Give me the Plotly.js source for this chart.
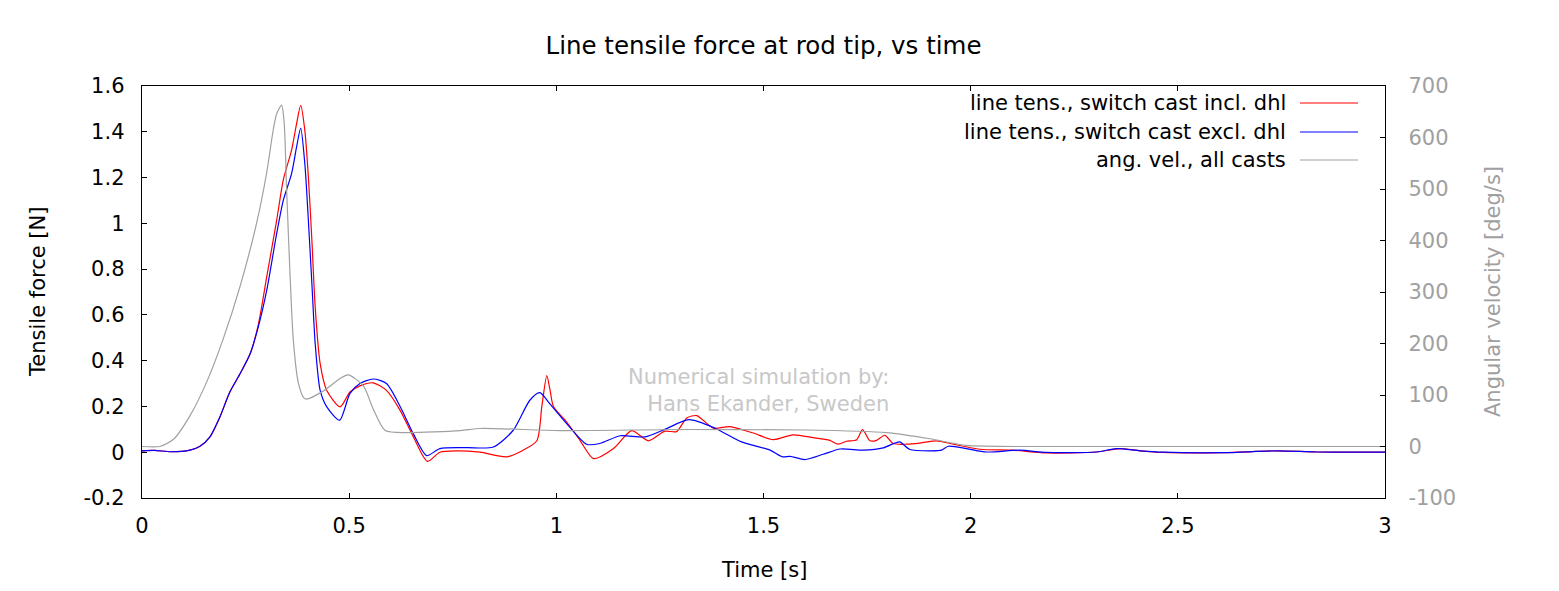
<!DOCTYPE html>
<html>
<head>
<meta charset="utf-8">
<script src="https://cdn.plot.ly/plotly-3.0.1.min.js"></script>
<style>html,body{margin:0;padding:0;background:#fff;}#chart{width:1559px;height:591px;}</style>
</head>
<body>
<div id="chart"></div>
<script>
// ---- data ----
var tIncl = [0,0.03,0.07,0.116,0.14,0.164,0.188,0.212,0.237,0.261,0.281,0.301,0.325,0.341,0.361,0.373,0.383,0.393,0.401,0.41,0.418,0.43,0.446,0.478,0.502,0.526,0.558,0.59,0.623,0.655,0.689,0.719,0.76,0.816,0.88,0.92,0.953,0.965,0.977,0.985,0.993,1.025,1.057,1.09,1.138,1.182,1.222,1.262,1.29,1.315,1.339,1.379,1.419,1.475,1.524,1.571,1.62,1.66,1.68,1.70,1.725,1.739,1.757,1.773,1.793,1.813,1.845,1.878,1.918,1.958,2.022,2.10,2.183,2.304,2.36,2.409,2.465,2.61,2.739,2.835,3.0];
var fIncl = [0.006,0.008,0.002,0.009,0.026,0.067,0.154,0.263,0.344,0.43,0.56,0.766,1.013,1.19,1.32,1.435,1.515,1.406,1.217,0.926,0.634,0.387,0.27,0.198,0.263,0.29,0.303,0.27,0.183,0.067,-0.04,0.0,0.006,0.0,-0.02,0.009,0.05,0.2,0.335,0.27,0.2,0.132,0.052,-0.028,0.016,0.094,0.05,0.092,0.09,0.15,0.16,0.105,0.112,0.084,0.055,0.076,0.064,0.052,0.035,0.048,0.055,0.099,0.05,0.052,0.074,0.038,0.035,0.04,0.05,0.035,0.013,0.009,-0.003,0.001,0.016,0.006,-0.001,-0.002,0.006,0.001,0.0];

var tExcl = [0,0.03,0.07,0.116,0.14,0.164,0.188,0.212,0.237,0.261,0.281,0.301,0.325,0.341,0.361,0.373,0.383,0.393,0.401,0.41,0.418,0.43,0.446,0.477,0.502,0.526,0.558,0.59,0.623,0.655,0.687,0.719,0.784,0.848,0.896,0.936,0.96,0.985,1.025,1.073,1.105,1.154,1.214,1.262,1.32,1.383,1.447,1.516,1.546,1.564,1.60,1.644,1.685,1.741,1.789,1.817,1.829,1.853,1.902,1.93,1.946,1.99,2.038,2.119,2.183,2.304,2.352,2.409,2.465,2.61,2.739,2.835,3.0];
var fExcl = [0.006,0.008,0.002,0.009,0.026,0.067,0.154,0.263,0.344,0.43,0.55,0.707,0.955,1.10,1.217,1.333,1.416,1.26,1.03,0.737,0.475,0.27,0.198,0.14,0.257,0.30,0.32,0.30,0.2,0.08,-0.015,0.016,0.02,0.023,0.096,0.227,0.26,0.21,0.125,0.035,0.038,0.072,0.067,0.10,0.142,0.105,0.045,0.009,-0.02,-0.018,-0.032,-0.009,0.014,0.009,0.019,0.04,0.045,0.012,0.006,0.009,0.026,0.016,0.001,0.009,-0.001,0.001,0.016,0.006,0.0,-0.002,0.006,0.001,0.0];

var tAng = [0,0.043,0.076,0.116,0.156,0.196,0.237,0.277,0.301,0.317,0.325,0.337,0.343,0.349,0.357,0.365,0.377,0.39,0.397,0.438,0.478,0.498,0.534,0.558,0.587,0.639,0.768,0.816,1.009,1.3,1.6,1.797,1.902,1.99,2.2,3.0];
var wAng = [0,0,14,60,125,209,312,435,532,616,646,663,630,500,339,209,125,95,92,108,132,139,118,73,31,27,31,35,31,33,32,27,15,2,0,0];

var xTickVals = [0,0.5,1,1.5,2,2.5,3];
var xTickText = ["0","0.5","1","1.5","2","2.5","3"];
var yTickVals = [-0.2,0,0.2,0.4,0.6,0.8,1,1.2,1.4,1.6];
var yTickText = ["-0.2","0","0.2","0.4","0.6","0.8","1","1.2","1.4","1.6"];
var y2TickVals = [-100,0,100,200,300,400,500,600,700];
var y2TickText = ["-100","0","100","200","300","400","500","600","700"];

var seriesNames = ["line tens., switch cast incl. dhl","line tens., switch cast excl. dhl","ang. vel., all casts"];
var seriesColors = ["#ff0000","#0000ff","#a0a0a0"];

// ---- chart ----
var FONT = "DejaVu Sans, Verdana, sans-serif";
var GREY = "#a0a0a0";
var SMOOTH = 0.7;

var traces = [
  {x:tIncl, y:fIncl, type:"scatter", mode:"lines", name:seriesNames[0],
   line:{color:seriesColors[0], width:1.2, shape:"spline", smoothing:SMOOTH}, yaxis:"y"},
  {x:tExcl, y:fExcl, type:"scatter", mode:"lines", name:seriesNames[1],
   line:{color:seriesColors[1], width:1.2, shape:"spline", smoothing:SMOOTH}, yaxis:"y"},
  {x:tAng, y:wAng, type:"scatter", mode:"lines", name:seriesNames[2],
   line:{color:seriesColors[2], width:1.2, shape:"spline", smoothing:SMOOTH}, yaxis:"y2"}
];
// draw order: grey behind coloured lines as in reference? reference draws red, blue, then grey on top
traces = [traces[0], traces[1], traces[2]];

// hand-made legend (text left of sample line, as in reference)
var legX1 = 0.9316, legX2 = 0.9783, legTextX = 0.922;
var legY = [0.9587, 0.8883, 0.8204];
var shapes = [], annotations = [];
for (var i = 0; i < 3; i++) {
  shapes.push({type:"line", xref:"paper", yref:"paper", x0:legX1, x1:legX2, y0:legY[i], y1:legY[i],
               line:{color:seriesColors[i], width:1.2}});
  annotations.push({xref:"paper", yref:"paper", x:legTextX, y:legY[i], xanchor:"right", yanchor:"middle",
                    text:seriesNames[i], showarrow:false, font:{family:FONT, size:21, color:"#000"}});
}
annotations.push({xref:"paper", yref:"paper", x:0.6026, y:0.262, xanchor:"right", yanchor:"middle", align:"right",
                  text:"Numerical simulation by:<br>Hans Ekander, Sweden", showarrow:false,
                  font:{family:FONT, size:21, color:"#c8c8c8"}});
annotations.push({xref:"paper", yref:"paper", x:0.5, y:-0.1748, xanchor:"center", yanchor:"middle",
                  text:"Time [s]", showarrow:false, font:{family:FONT, size:21, color:"#000"}});
annotations.push({xref:"paper", yref:"paper", x:-0.0837, y:0.5, xanchor:"center", yanchor:"middle", textangle:-90,
                  text:"Tensile force [N]", showarrow:false, font:{family:FONT, size:21, color:"#000"}});
annotations.push({xref:"paper", yref:"paper", x:1.0869, y:0.5, xanchor:"center", yanchor:"middle", textangle:-90,
                  text:"Angular velocity [deg/s]", showarrow:false, font:{family:FONT, size:21, color:GREY}});

var layout = {
  width:1559, height:591,
  margin:{l:142, r:174, t:86, b:93},
  paper_bgcolor:"#fff", plot_bgcolor:"#fff",
  showlegend:false,
  font:{family:FONT, size:21, color:"#000"},
  title:{text:"Line tensile force at rod tip, vs time", font:{family:FONT, size:24.5, color:"#000"},
         xref:"paper", x:0.5, xanchor:"center", yref:"container", y:1-45/591, yanchor:"middle"},
  xaxis:{range:[0,3], tickvals:xTickVals, ticktext:xTickText, ticks:"inside", ticklen:5, tickwidth:1, tickcolor:"#000",
         showline:true, linecolor:"#000", linewidth:1.3, mirror:"ticks", showgrid:false, zeroline:false,
         ticklabelstandoff:8, tickfont:{family:FONT, size:21, color:"#000"}},
  yaxis:{range:[-0.2,1.6], tickvals:yTickVals, ticktext:yTickText, ticks:"inside", ticklen:5, tickwidth:1, tickcolor:"#000",
         showline:true, linecolor:"#000", linewidth:1.3, mirror:false, showgrid:false, zeroline:false,
         ticklabelstandoff:12, tickfont:{family:FONT, size:21, color:"#000"}},
  yaxis2:{range:[-100,700], tickvals:y2TickVals, ticktext:y2TickText, overlaying:"y", side:"right",
          ticks:"inside", ticklen:5, tickwidth:1, tickcolor:"#000",
          showline:true, linecolor:"#000", linewidth:1.3, showgrid:false, zeroline:false,
          ticklabelstandoff:18, tickfont:{family:FONT, size:21, color:GREY}},
  shapes:shapes,
  annotations:annotations
};

Plotly.newPlot("chart", traces, layout, {staticPlot:true, displayModeBar:false});
</script>
</body>
</html>
